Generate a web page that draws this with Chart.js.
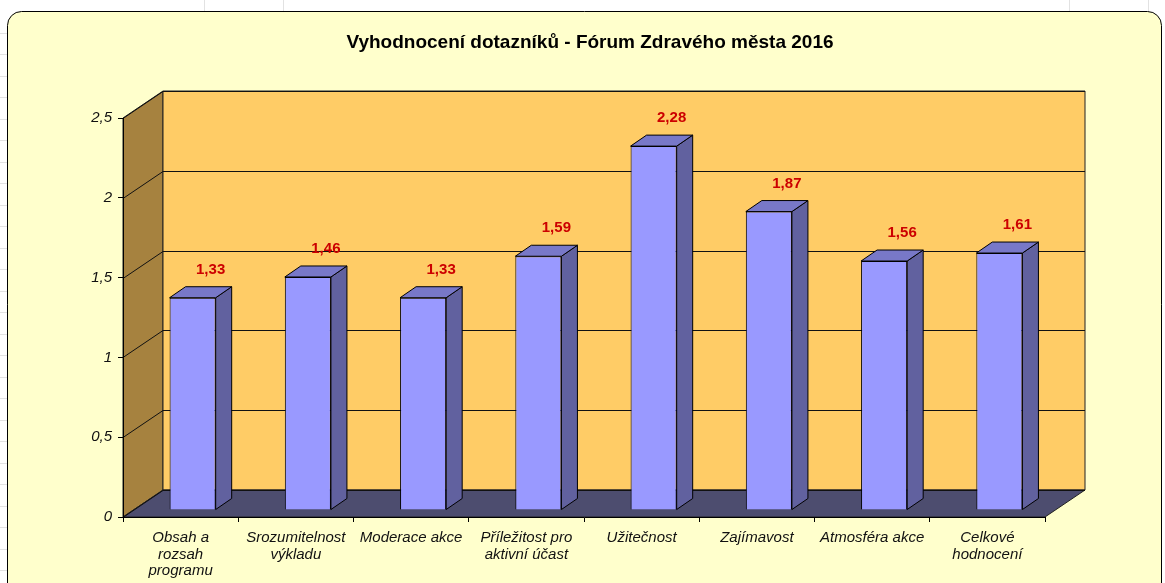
<!DOCTYPE html>
<html>
<head>
<meta charset="utf-8">
<script src="https://cdn.jsdelivr.net/npm/chart.js@4/dist/chart.umd.min.js"></script>
<style>
  html, body { margin: 0; padding: 0; background: #fff; }
  #wrap { width: 1165px; height: 583px; }
</style>
</head>
<body>
<div id="wrap"><canvas id="c" width="1165" height="583"></canvas></div>
<script>
const chartTitle = 'Vyhodnocení dotazníků - Fórum Zdravého města 2016';
const categories = [
  ['Obsah a', 'rozsah', 'programu'],
  ['Srozumitelnost', 'výkladu'],
  'Moderace akce',
  ['Příležitost pro', 'aktivní účast'],
  'Užitečnost',
  'Zajímavost',
  'Atmosféra akce',
  ['Celkové', 'hodnocení']
];
const scores = [1.33, 1.46, 1.33, 1.59, 2.28, 1.87, 1.56, 1.61];
const yTicks = [0, 0.5, 1, 1.5, 2, 2.5];

const FONT = "'Liberation Sans', Arial, sans-serif";
// posun zadni steny, sloupcu a hloubka sloupcu
const WALL = { x: 40, y: -27 };
const BAR_OFF = { x: 12, y: -7 };
const BAR_DEPTH = { x: 16, y: -11 };

function fmt(v) {
  return String(v).replace('.', ',');
}

function poly(ctx, pts, fill) {
  ctx.beginPath();
  ctx.moveTo(pts[0][0], pts[0][1]);
  for (let i = 1; i < pts.length; i++) ctx.lineTo(pts[i][0], pts[i][1]);
  ctx.closePath();
  ctx.fillStyle = fill;
  ctx.fill();
  ctx.stroke();
}

const box3d = {
  id: 'box3d',
  beforeDraw(chart) {
    const ctx = chart.ctx;
    const a = chart.chartArea;
    const y = chart.scales.y;
    ctx.save();
    ctx.fillStyle = '#fff';
    ctx.fillRect(0, 0, chart.width, chart.height);

    // slabe mrizky listu
    ctx.strokeStyle = '#e2e2e2';
    ctx.lineWidth = 1;
    for (let k = 1; k < 28; k++) {
      const gy = Math.round(11 + 21.5 * k) + 0.5;
      ctx.beginPath(); ctx.moveTo(0, gy); ctx.lineTo(8, gy); ctx.stroke();
    }
    [204.5, 283.5, 1069.5, 1148.5].forEach(gx => {
      ctx.beginPath(); ctx.moveTo(gx, 0); ctx.lineTo(gx, 12); ctx.stroke();
    });

    // ramecek grafu
    ctx.beginPath();
    ctx.roundRect(7.5, 11.5, 1154, 600, 14);
    ctx.fillStyle = '#FFFFCC';
    ctx.fill();
    ctx.strokeStyle = '#000';
    ctx.stroke();

    // nadpis
    ctx.fillStyle = '#000';
    ctx.font = 'bold 19px ' + FONT;
    ctx.textAlign = 'center';
    ctx.textBaseline = 'middle';
    ctx.fillText(chartTitle, 590, 43);

    const top = y.getPixelForValue(y.max);
    const bot = y.getPixelForValue(0);
    ctx.strokeStyle = '#222';
    ctx.lineWidth = 1;
    // bocni stena
    poly(ctx, [[a.left, top], [a.left + WALL.x, top + WALL.y], [a.left + WALL.x, bot + WALL.y], [a.left, bot]], '#A6823F');
    // zadni stena
    poly(ctx, [[a.left + WALL.x, top + WALL.y], [a.right + WALL.x, top + WALL.y], [a.right + WALL.x, bot + WALL.y], [a.left + WALL.x, bot + WALL.y]], '#FFCC66');
    // podlaha
    poly(ctx, [[a.left, bot], [a.left + WALL.x, bot + WALL.y], [a.right + WALL.x, bot + WALL.y], [a.right, bot]], '#4D4D6F');

    // mrizka
    ctx.strokeStyle = '#111';
    yTicks.forEach(v => {
      const py = Math.round(y.getPixelForValue(v)) + 0.5;
      ctx.beginPath();
      ctx.moveTo(a.left, py);
      ctx.lineTo(a.left + WALL.x, py + WALL.y);
      ctx.lineTo(a.right + WALL.x, py + WALL.y);
      ctx.stroke();
    });
    ctx.restore();
  },
  beforeDatasetDraw(chart) {
    chart.ctx.save();
    chart.ctx.translate(BAR_OFF.x, BAR_OFF.y);
  },
  afterDatasetDraw(chart) {
    chart.ctx.restore();
  },
  afterDatasetsDraw(chart) {
    const ctx = chart.ctx;
    const meta = chart.getDatasetMeta(0);
    ctx.save();
    ctx.strokeStyle = '#000';
    ctx.lineWidth = 1;
    meta.data.forEach((el, i) => {
      const p = el.getProps(['x', 'y', 'base', 'width'], true);
      const xl = p.x - p.width / 2 + BAR_OFF.x;
      const xr = p.x + p.width / 2 + BAR_OFF.x;
      const yt = p.y + BAR_OFF.y;
      const yb = p.base + BAR_OFF.y;
      const dx = BAR_DEPTH.x, dy = BAR_DEPTH.y;
      poly(ctx, [[xr, yt], [xr + dx, yt + dy], [xr + dx, yb + dy], [xr, yb]], '#61619F');
      poly(ctx, [[xl, yt], [xl + dx, yt + dy], [xr + dx, yt + dy], [xr, yt]], '#7878C8');

      ctx.fillStyle = '#CC0000';
      ctx.font = 'bold 15px ' + FONT;
      ctx.textAlign = 'center';
      ctx.textBaseline = 'middle';
      ctx.fillText(fmt(scores[i]), p.x + BAR_OFF.x + 18, yt - 28);
    });
    ctx.restore();
  }
};

new Chart(document.getElementById('c'), {
  type: 'bar',
  data: {
    labels: categories,
    datasets: [{
      data: scores,
      backgroundColor: '#9999FF',
      borderColor: '#000',
      borderWidth: 1,
      categoryPercentage: 1,
      barPercentage: 0.4
    }]
  },
  options: {
    responsive: false,
    animation: false,
    devicePixelRatio: 1,
    layout: { padding: { top: 118, right: 120, left: 0, bottom: 0 } },
    plugins: {
      legend: { display: false },
      title: { display: false },
      tooltip: { enabled: false }
    },
    scales: {
      x: {
        offset: true,
        grid: { offset: true, drawOnChartArea: false, tickLength: 5, color: '#000' },
        border: { display: true, color: '#000', z: 1 },
        ticks: {
          color: '#111',
          font: { family: FONT, size: 15, style: 'italic', lineHeight: 1.1 },
          padding: 8,
          maxRotation: 0,
          autoSkip: false
        },
        afterFit(scale) { scale.height = 66; }
      },
      y: {
        min: 0,
        max: 2.5,
        afterBuildTicks(scale) { scale.ticks = yTicks.map(v => ({ value: v })); },
        grid: { drawOnChartArea: false, tickLength: 5, color: '#000' },
        border: { display: true, color: '#000', z: 1 },
        ticks: {
          color: '#111',
          font: { family: FONT, size: 15, style: 'italic' },
          padding: 6,
          callback: v => fmt(v)
        },
        afterFit(scale) { scale.width = 123; }
      }
    }
  },
  plugins: [box3d]
});
</script>
</body>
</html>
